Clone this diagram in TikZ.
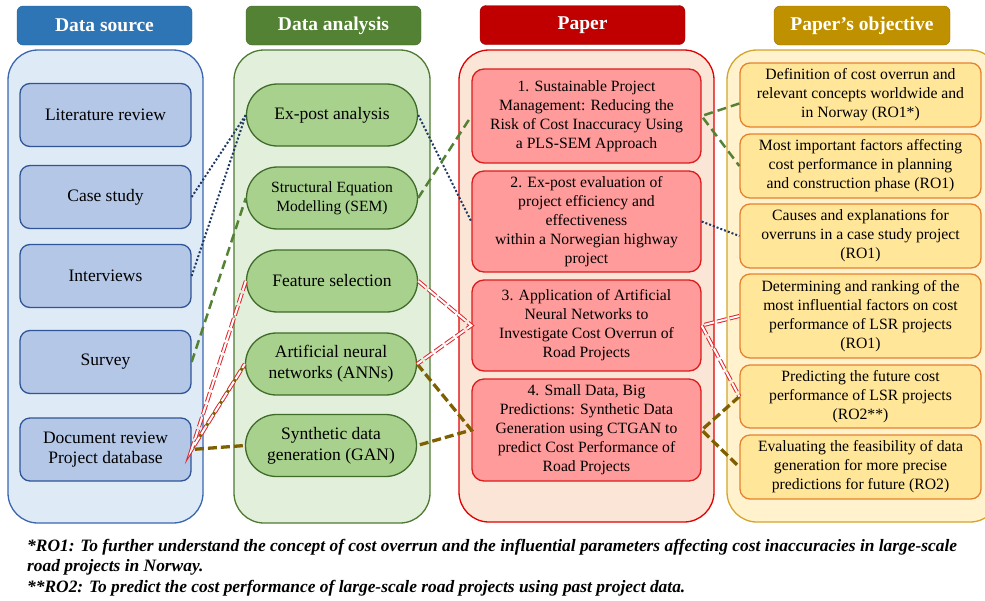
\documentclass[tikz,border=0pt]{standalone}
\usepackage{fontspec}
\setmainfont{Liberation Serif}
\usetikzlibrary{positioning,shapes.misc}

\definecolor{srchead}{HTML}{2E75B6}
\definecolor{srcback}{HTML}{DEEBF7}
\definecolor{srcedge}{HTML}{3A66B0}
\definecolor{srcfill}{HTML}{B4C7E7}
\definecolor{srcline}{HTML}{2F5597}
\definecolor{anahead}{HTML}{548235}
\definecolor{anaback}{HTML}{E2EFDA}
\definecolor{anaedge}{HTML}{4E7A32}
\definecolor{anafill}{HTML}{A9D18E}
\definecolor{analine}{HTML}{3E6A2A}
\definecolor{paphead}{HTML}{C00000}
\definecolor{papback}{HTML}{FBE5D6}
\definecolor{papedge}{HTML}{E00000}
\definecolor{papfill}{HTML}{FF9B9B}
\definecolor{papline}{HTML}{DD1C1C}
\definecolor{objhead}{HTML}{BF9000}
\definecolor{objback}{HTML}{FFF2CC}
\definecolor{objedge}{HTML}{D4A52A}
\definecolor{objfill}{HTML}{FFE699}
\definecolor{objline}{HTML}{E5822E}
\definecolor{navyline}{HTML}{203864}
\definecolor{greenline}{HTML}{548235}
\definecolor{redline}{HTML}{E0262B}
\definecolor{oliveline}{HTML}{7F6000}

\begin{document}
\begin{tikzpicture}[x=1pt,y=-1pt,
  head/.style={rounded corners=6pt,minimum height=39pt,inner sep=0pt,text=white,font=\fontsize{19.5}{22}\selectfont\bfseries},
  column/.style={rounded corners=30pt,line width=1.3pt},
  srcbox/.style={draw=srcline,fill=srcfill,line width=1.3pt,rounded corners=10pt,minimum width=171pt,minimum height=63pt,align=center,inner sep=0pt,font=\fontsize{17.5}{20}\selectfont},
  anabox/.style={rounded rectangle,draw=analine,fill=anafill,line width=1.3pt,minimum width=171pt,minimum height=62pt,align=center,inner sep=0pt,font=\fontsize{17.5}{21}\selectfont},
  papbox/.style={draw=papline,fill=papfill,line width=1.3pt,rounded corners=12pt,minimum width=229pt,align=center,inner sep=0pt,font=\fontsize{15.7}{19}\selectfont},
  objbox/.style={draw=objline,fill=objfill,line width=1.3pt,rounded corners=10pt,minimum width=241pt,align=center,inner sep=0pt,font=\fontsize{15.7}{19}\selectfont},
  navy/.style={navyline,line width=2pt,dotted},
  greendash/.style={greenline,line width=2.5pt,dash pattern=on 9pt off 5pt},
  reddouble/.style={redline,line width=1pt,double=white,double distance=2pt,dash pattern=on 10pt off 3pt},
  olivedash/.style={oliveline,line width=3.3pt,dash pattern=on 9pt off 4pt}]
\useasboundingbox (0,0) rectangle (985,600);

\draw[column,draw=srcedge,fill=srcback] (8,50) rectangle (203,523);
\draw[column,draw=anaedge,fill=anaback] (234,50) rectangle (430,523);
\draw[column,draw=papedge,fill=papback] (459,50) rectangle (714,522);
\draw[column,draw=objedge,fill=objback] (727,50) rectangle (1000,522);

\node[head,fill=srchead,draw=srchead!80!black,minimum width=175pt] (hsrc) at (104.5,25.5) {Data source};
\node[head,fill=anahead,draw=anahead!80!black,minimum width=175pt] (hana) at (333.5,25.5) {Data analysis};
\node[head,fill=paphead,draw=paphead!80!black,minimum width=205pt] (hpap) at (582.5,25) {Paper};
\node[head,fill=objhead,draw=objhead!80!black,minimum width=176pt] (hobj) at (862,25.5) {Paper’s objective};

\node[srcbox] (src1) at (105.5,115) {Literature review};
\node[srcbox] (src2) at (105.5,197) {Case study};
\node[srcbox] (src3) at (105.5,276) {Interviews};
\node[srcbox] (src4) at (105.5,362) {Survey};
\node[srcbox] (src5) at (105.5,449.5) {Document review\\Project database};

\node[anabox] (ana1) at (332,115) {Ex-post analysis};
\node[anabox,font=\fontsize{15.6}{19}\selectfont] (ana2) at (332,198) {Structural Equation\\Modelling (SEM)};
\node[anabox] (ana3) at (332,281) {Feature selection};
\node[anabox] (ana4) at (331,364) {Artificial neural\\networks (ANNs)};
\node[anabox] (ana5) at (331,445.5) {Synthetic data\\generation (GAN)};

\node[papbox,minimum height=94pt] (pap1) at (586.5,116) {1. Sustainable Project\\Management: Reducing the\\Risk of Cost Inaccuracy Using\\a PLS-SEM Approach};
\node[papbox,minimum height=101pt] (pap2) at (586.5,221.5) {2. Ex-post evaluation of\\project efficiency and\\effectiveness\\within a Norwegian highway\\project};
\node[papbox,minimum height=91pt] (pap3) at (586.5,325.5) {3. Application of Artificial\\Neural Networks to\\Investigate Cost Overrun of\\Road Projects};
\node[papbox,minimum height=102pt] (pap4) at (586.5,430) {4. Small Data, Big\\Predictions: Synthetic Data\\Generation using CTGAN to\\predict Cost Performance of\\Road Projects};

\node[objbox,minimum height=64pt] (obj1) at (860.5,95) {Definition of cost overrun and\\relevant concepts worldwide and\\in Norway (RO1*)};
\node[objbox,minimum height=64pt] (obj2) at (860.5,166) {Most important factors affecting\\cost performance in planning\\and construction phase (RO1)};
\node[objbox,minimum height=64pt] (obj3) at (860.5,236) {Causes and explanations for\\overruns in a case study project\\(RO1)};
\node[objbox,minimum height=84pt] (obj4) at (860.5,316) {Determining and ranking of the\\most influential factors on cost\\performance of LSR projects\\(RO1)};
\node[objbox,minimum height=63pt] (obj5) at (860.5,396.5) {Predicting the future cost\\performance of LSR projects\\(RO2**)};
\node[objbox,minimum height=64pt] (obj6) at (860.5,467) {Evaluating the feasibility of data\\generation for more precise\\predictions for future (RO2)};

\draw[navy] (src2.east) -- (ana1.west);
\draw[navy] (src3.east) -- (ana1.west);
\draw[navy] (ana1.east) -- (pap2.west);
\draw[navy] (pap2.east) -- (obj3.west);

\draw[greendash] (src4.east) -- (ana2.west);
\draw[greendash] (ana2.east) -- (pap1.west);
\draw[greendash] (obj1.184) -- (pap1.east) -- (obj2.west);

\draw[olivedash] (ana4.west) -- (src5.east) -- (ana5.west);
\draw[olivedash] (ana4.east) -- (pap4.west) -- (ana5.east);
\draw[olivedash] (obj5.west) -- (pap4.east) -- (obj6.west);

\draw[reddouble] (ana3.west) -- (src5.east) -- (ana4.west);
\draw[reddouble] (ana3.east) -- (pap3.west) -- (ana4.east);
\draw[reddouble] (obj4.west) -- (pap3.east) -- (obj5.west);

\node[anchor=north west,align=left,inner sep=0pt,font=\fontsize{17.4}{20.5}\selectfont\bfseries\itshape] (note) at (27,539) {*RO1: To further understand the concept of cost overrun and the influential parameters affecting cost inaccuracies in large-scale\\road projects in Norway.\\**RO2: To predict the cost performance of large-scale road projects using past project data.};
\end{tikzpicture}
\end{document}
